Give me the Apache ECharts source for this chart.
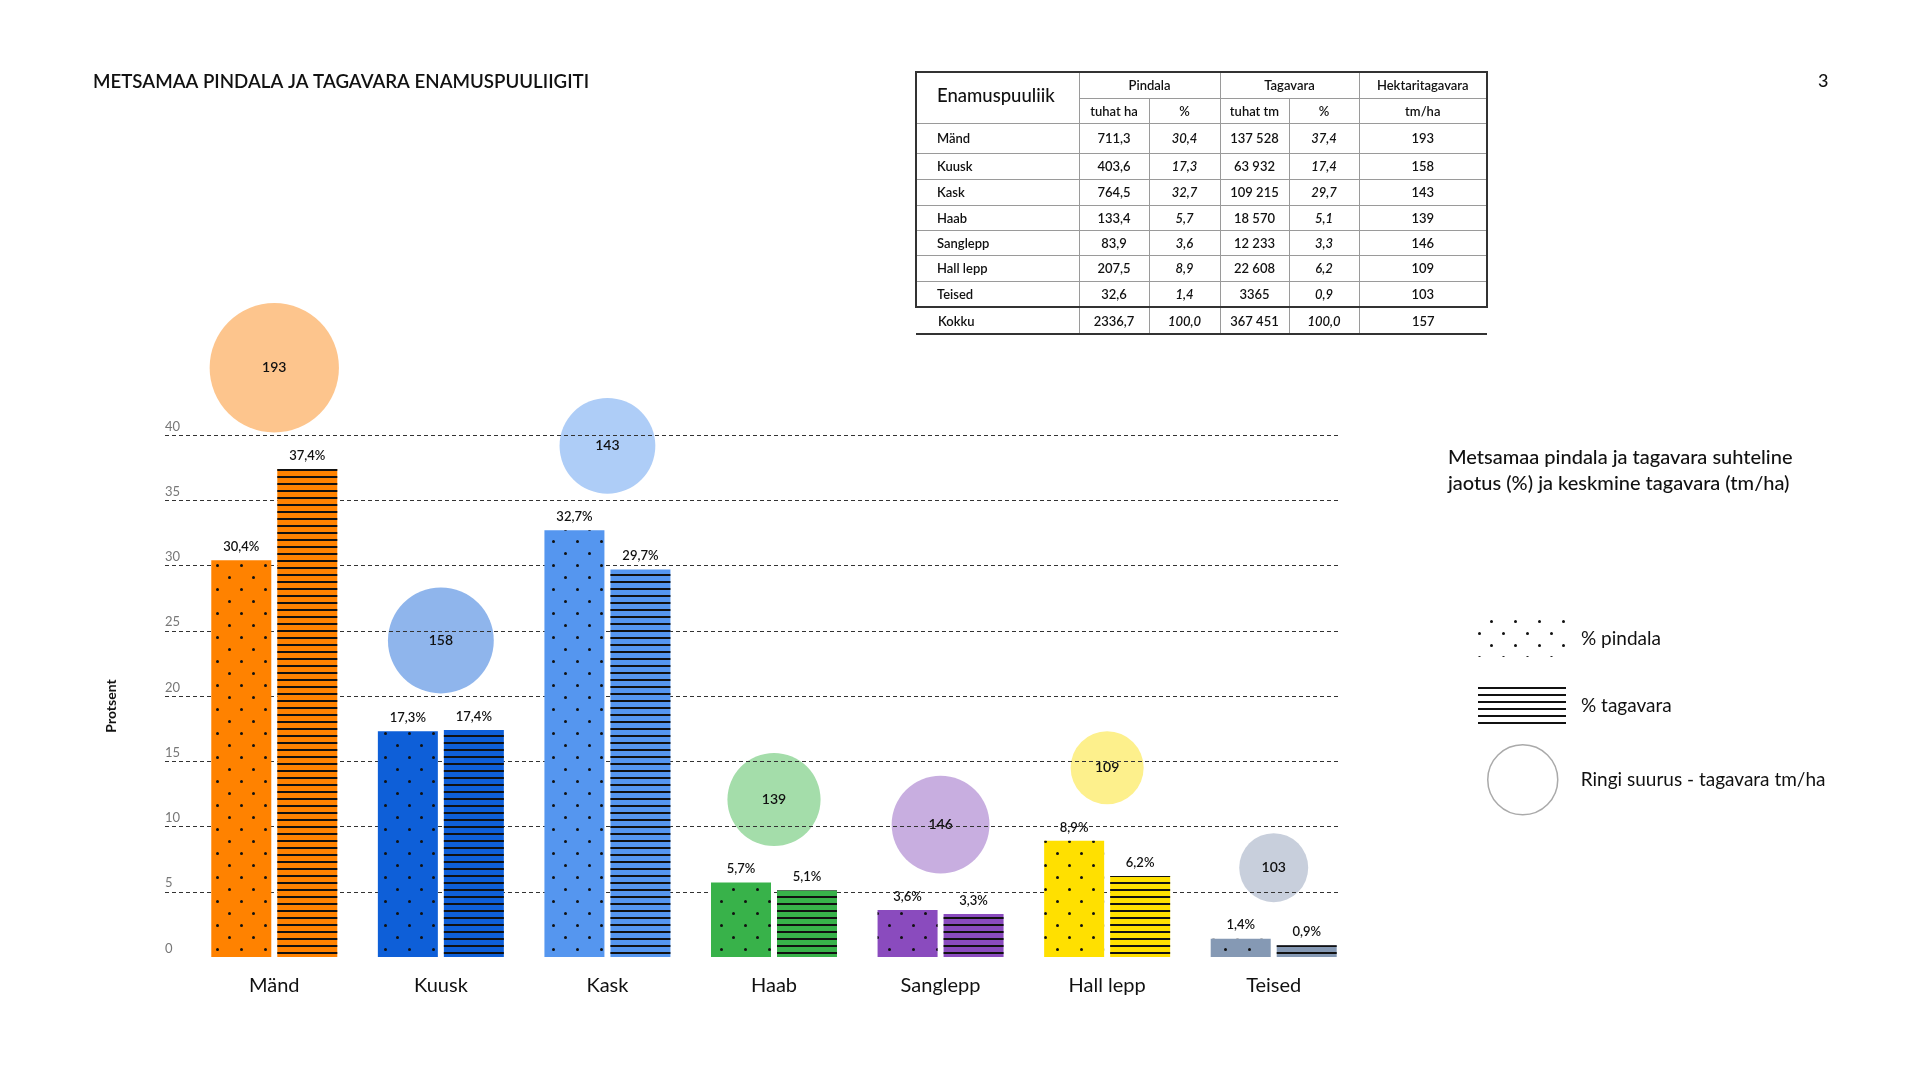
<!DOCTYPE html>
<html>
<head>
<meta charset="utf-8">
<script src="https://cdn.jsdelivr.net/npm/echarts@6/dist/echarts.min.js"></script>
<style>
html,body{margin:0;padding:0;background:#fff;}
#chart{position:absolute;left:0;top:0;width:1920px;height:1078px;}
#tbl{position:absolute;left:915px;top:71px;width:571px;border-collapse:collapse;table-layout:fixed;
  font-family:Lato,"Noto Sans",sans-serif;color:#111;font-size:13px;font-weight:600;}
#tbl td,#tbl th{padding:0;text-align:center;border:1.5px solid #9a9a9a;white-space:nowrap;}
#tbl th{font-weight:600;}
#tbl .nm{text-align:left;padding-left:20px;}
#tbl .hd{font-size:18.5px;font-weight:500;vertical-align:middle;padding-bottom:6px;}
#tbl .it{font-style:italic;}
#tbl .L{border-left:2px solid #333;}
#tbl .R{border-right:2px solid #333;}
#tbl .T{border-top:2px solid #333;}
#tbl .B{border-bottom:2px solid #333;}
#tbl .noL{border-left:none;}
#tbl .noR{border-right:none;}
</style>
</head>
<body>
<div id="chart"></div>
<table id="tbl"></table>
<script>
// ---------- data ----------
const categories = ['Mänd', 'Kuusk', 'Kask', 'Haab', 'Sanglepp', 'Hall lepp', 'Teised'];
const areaThousandHa = [711.3, 403.6, 764.5, 133.4, 83.9, 207.5, 32.6];
const areaPct = [30.4, 17.3, 32.7, 5.7, 3.6, 8.9, 1.4];
const stockThousandM3 = [137528, 63932, 109215, 18570, 12233, 22608, 3365];
const stockPct = [37.4, 17.4, 29.7, 5.1, 3.3, 6.2, 0.9];
const stockPerHa = [193, 158, 143, 139, 146, 109, 103];
const totalLabel = 'Kokku';
const totalValues = [2336.7, 100.0, 367451, 100.0, 157];
const yTicks = [0, 5, 10, 15, 20, 25, 30, 35, 40];

// ---------- styles ----------
const barColors = ['#FF8200', '#0E5FD8', '#5596EF', '#38B24A', '#8A4BBE', '#FFE000', '#8599B4'];
const circleColors = ['#FDC58D', '#8FB5EC', '#AECDF7', '#A4DDAA', '#C8AEE0', '#FDF08C', '#C8CFDC'];
const FONT = 'Lato, "Noto Sans", sans-serif';

function fmtDec(v, d) { return v.toFixed(d).replace('.', ','); }
function fmtInt(v) { return v >= 10000 ? String(v).replace(/\B(?=(\d{3})+(?!\d))/g, ' ') : String(v); }

// ---------- table ----------
(function buildTable() {
  const t = document.getElementById('tbl');
  let h = '<colgroup><col style="width:163px"><col style="width:70px"><col style="width:71px"><col style="width:69px"><col style="width:70px"><col style="width:128px"></colgroup>';
  h += '<tr style="height:26px"><th rowspan="2" class="nm hd L T">Enamuspuuliik</th><th colspan="2" class="T">Pindala</th><th colspan="2" class="T">Tagavara</th><th class="T R">Hektaritagavara</th></tr>';
  h += '<tr style="height:25px"><th>tuhat ha</th><th>%</th><th>tuhat tm</th><th>%</th><th class="R">tm/ha</th></tr>';
  categories.forEach((c, i) => {
    const last = i === categories.length - 1;
    const b = last ? ' B' : '';
    const ht = i === 0 ? 30 : (i === 3 || i === 4 ? 25 : 26);
    h += '<tr style="height:' + ht + 'px"><td class="nm L' + b + '">' + c + '</td>' +
      '<td class="' + b + '">' + fmtDec(areaThousandHa[i], 1) + '</td>' +
      '<td class="it' + b + '">' + fmtDec(areaPct[i], 1) + '</td>' +
      '<td class="' + b + '">' + fmtInt(stockThousandM3[i]) + '</td>' +
      '<td class="it' + b + '">' + fmtDec(stockPct[i], 1) + '</td>' +
      '<td class="R' + b + '">' + stockPerHa[i] + '</td></tr>';
  });
  h += '<tr style="height:27px"><td class="nm noL B" style="padding-left:22px">' + totalLabel + '</td>' +
    '<td class="B">' + fmtDec(totalValues[0], 1) + '</td>' +
    '<td class="it B">' + fmtDec(totalValues[1], 1) + '</td>' +
    '<td class="B">' + fmtInt(totalValues[2]) + '</td>' +
    '<td class="it B">' + fmtDec(totalValues[3], 1) + '</td>' +
    '<td class="noR B">' + totalValues[4] + '</td></tr>';
  t.innerHTML = h;
})();

// ---------- chart ----------
const chart = echarts.init(document.getElementById('chart'));
const PLOT_TOP = 435, PLOT_BOTTOM = 957;
const Y_MIN = yTicks[0], Y_MAX = yTicks[yTicks.length - 1], Y_STEP = yTicks[1] - yTicks[0];
const pxPerUnit = (PLOT_BOTTOM - PLOT_TOP) / (Y_MAX - Y_MIN);
const sizeScale = 0.67;      // circle diameter (px) per tm/ha
const circleGap = 2.8;       // clearance above the taller bar, axis units
const circleData = categories.map((c, i) => {
  const r = stockPerHa[i] * sizeScale / 2;
  return [i, Math.max(areaPct[i], stockPct[i]) + circleGap + r / pxPerUnit, stockPerHa[i]];
});

const dotDecal = {
  symbol: 'circle', symbolSize: 1, color: '#111',
  dashArrayX: [[3, 21], [0, 12, 3, 9]], dashArrayY: [3, 9]
};
const lineDecal = {
  symbol: 'rect', symbolSize: 1, color: '#111',
  dashArrayX: [1, 0], dashArrayY: [2, 5]
};
const barLabel = {
  show: true, position: 'top', distance: 7, fontSize: 13, fontWeight: 600,
  fontFamily: FONT, color: '#111',
  formatter: p => fmtDec(p.value, 1) + '%'
};
const legendText = { fontSize: 19, color: '#111', fontFamily: FONT, padding: [0, 0, 0, 10] };

const option = {
  backgroundColor: '#fff',
  animation: false,
  textStyle: { fontFamily: FONT },
  grid: [
    { left: 191, right: 563, top: PLOT_TOP, bottom: 1078 - PLOT_BOTTOM },
    { left: 165, right: 582, top: PLOT_TOP, bottom: 1078 - PLOT_BOTTOM }
  ],
  xAxis: [
    { gridIndex: 0, type: 'category', data: categories,
      axisLine: { show: false }, axisTick: { show: false },
      axisLabel: { fontSize: 20, color: '#111', margin: 19, fontFamily: FONT } },
    { gridIndex: 1, type: 'value', min: 0, max: 1, show: false }
  ],
  yAxis: [
    { gridIndex: 0, type: 'value', min: Y_MIN, max: Y_MAX, show: false, splitLine: { show: false } },
    { gridIndex: 1, type: 'value', min: Y_MIN, max: Y_MAX, interval: Y_STEP, z: 1,
      axisLine: { show: false }, axisTick: { show: false },
      splitLine: { show: true, showMinLine: false, lineStyle: { type: [4, 3], color: '#333', width: 1.2 } },
      axisLabel: { inside: true, margin: 0, verticalAlign: 'bottom', padding: [0, 0, 2, 0], fontSize: 13, color: '#777', fontFamily: FONT },
      name: 'Protsent', nameLocation: 'middle', nameRotate: 90, nameGap: 47,
      nameTextStyle: { fontSize: 14, fontWeight: 'bold', color: '#111', fontFamily: FONT, padding: [0, 20, 0, 0] } }
  ],
  legend: [
    { left: 1478, top: 620, padding: 0, orient: 'vertical', itemWidth: 88, itemHeight: 37, itemGap: 30,
      icon: 'rect', selectedMode: false,
      data: [
        { name: '% pindala', itemStyle: { color: '#fff', borderWidth: 0 } },
        { name: '% tagavara', itemStyle: { color: '#fff', borderWidth: 0 } }
      ],
      textStyle: legendText },
    { left: 1487, top: 744, padding: 0, orient: 'vertical', itemWidth: 70, itemHeight: 70,
      icon: 'circle', selectedMode: false,
      data: [{ name: 'Ringi suurus - tagavara tm/ha', itemStyle: { color: '#fff', borderColor: '#aaa', borderWidth: 1.5 } }],
      textStyle: Object.assign({}, legendText, { padding: [0, 0, 0, 18] }) }
  ],
  graphic: [
    { type: 'text', left: 93, top: 72, style: { text: 'METSAMAA PINDALA JA TAGAVARA ENAMUSPUULIIGITI', font: '600 18.7px ' + FONT, fill: '#111' } },
    { type: 'text', left: 1818, top: 72, style: { text: '3', font: '500 18px ' + FONT, fill: '#111' } },
    { type: 'text', left: 1448, top: 445, style: { text: 'Metsamaa pindala ja tagavara suhteline\njaotus (%) ja keskmine tagavara (tm/ha)', font: '500 20px ' + FONT, lineHeight: 25.5, fill: '#111' } }
  ],
  series: [
    { name: 'Ringi suurus - tagavara tm/ha', type: 'scatter', xAxisIndex: 0, yAxisIndex: 0, z: 0, clip: false,
      data: circleData,
      symbolSize: v => v[2] * sizeScale,
      itemStyle: { color: p => circleColors[p.dataIndex], opacity: 1 },
      label: { show: true, position: 'inside', formatter: p => String(p.value[2]), fontSize: 14, fontWeight: 600, color: '#111', fontFamily: FONT } },
    { name: '% pindala', type: 'bar', xAxisIndex: 0, yAxisIndex: 0, z: 2,
      data: areaPct, barWidth: 60, barGap: '10%',
      itemStyle: { color: p => barColors[p.dataIndex], decal: dotDecal },
      label: barLabel },
    { name: '% tagavara', type: 'bar', xAxisIndex: 0, yAxisIndex: 0, z: 2,
      data: stockPct, barWidth: 60, barGap: '10%',
      itemStyle: { color: p => barColors[p.dataIndex], decal: lineDecal },
      label: barLabel }
  ]
};
chart.setOption(option);
</script>
</body>
</html>
